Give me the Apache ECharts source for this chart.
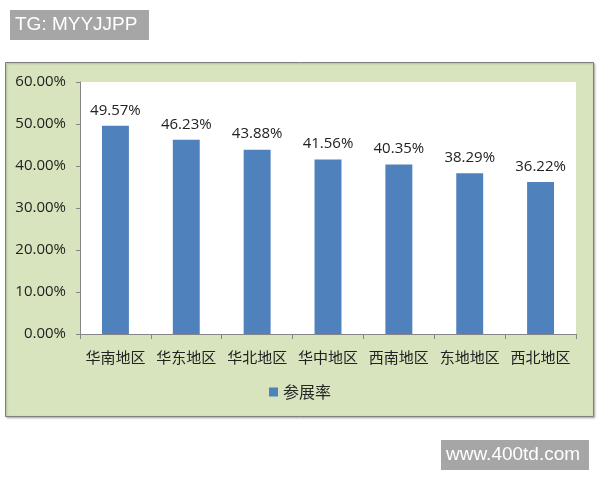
<!DOCTYPE html>
<html style="height: 100%">
<head>
<meta charset="utf-8">
<script src="https://cdn.jsdelivr.net/npm/echarts@6/dist/echarts.min.js"></script>
</head>
<body style="margin: 0; background: #fff">
<div id="container" style="width: 600px; height: 480px;"></div>
<script type="text/javascript">
// 各地区参展率
var regions = ['华南地区', '华东地区', '华北地区', '华中地区', '西南地区', '东地地区', '西北地区'];
var rates = [49.57, 46.23, 43.88, 41.56, 40.35, 38.29, 36.22];
var seriesName = '参展率';

var cjk = '"Noto Sans CJK SC", "Noto Sans", sans-serif';
var num = '"Open Sans", "Liberation Sans", sans-serif';

var myChart = echarts.init(document.getElementById('container'));
var option = {
    backgroundColor: '#fff',
    animation: false,
    textStyle: { fontFamily: cjk },
    graphic: [
        // 图表外框
        { type: 'rect', z: -10, shape: { x: 5.5, y: 62.5, width: 588, height: 354 },
          style: { fill: '#d7e4bd', stroke: '#7f7f7f', lineWidth: 1,
                   shadowColor: 'rgba(0,0,0,0.25)', shadowBlur: 2, shadowOffsetX: 1, shadowOffsetY: 1 } },
        // 水印
        { type: 'rect', shape: { x: 10, y: 10, width: 139, height: 30 }, style: { fill: '#a6a6a6' } },
        { type: 'text', left: 15, top: 15, style: { text: 'TG: MYYJJPP', fill: '#fff',
          font: '19px "Liberation Sans", Arial, sans-serif' } },
        { type: 'rect', shape: { x: 441, y: 440, width: 148, height: 30 }, style: { fill: '#a6a6a6' } },
        { type: 'text', left: 446, top: 445, style: { text: 'www.400td.com', fill: '#fff',
          font: '19px "Liberation Sans", Arial, sans-serif' } }
    ],
    grid: {
        left: 80, right: 24, top: 82, bottom: 146,
        show: true, backgroundColor: '#fff', borderWidth: 0
    },
    legend: {
        data: [seriesName],
        bottom: 75,
        left: 'center',
        icon: 'rect',
        itemWidth: 9,
        itemHeight: 9,
        itemGap: 4,
        textStyle: { fontSize: 16, color: '#262626', fontFamily: cjk }
    },
    xAxis: {
        type: 'category',
        data: regions,
        axisLine: { lineStyle: { color: '#868686' } },
        axisTick: { show: true, length: 5, lineStyle: { color: '#868686' } },
        axisLabel: { fontSize: 15, color: '#222', margin: 16, interval: 0 }
    },
    yAxis: {
        type: 'value',
        min: 0,
        max: 60,
        interval: 10,
        splitLine: { show: false },
        axisLine: { show: true, lineStyle: { color: '#868686' } },
        axisTick: { show: true, length: 4, lineStyle: { color: '#868686' } },
        axisLabel: {
            fontSize: 15, color: '#222', margin: 14, fontFamily: num,
            formatter: function (v) { return v.toFixed(2) + '%'; }
        }
    },
    series: [{
        name: seriesName,
        type: 'bar',
        data: rates,
        barWidth: '38%',
        itemStyle: { color: '#4f81bd' },
        label: {
            show: true,
            position: 'top',
            distance: 8,
            fontSize: 15,
            color: '#222',
            fontFamily: num,
            formatter: function (p) { return p.value.toFixed(2) + '%'; }
        }
    }]
};
myChart.setOption(option);
</script>
</body>
</html>
